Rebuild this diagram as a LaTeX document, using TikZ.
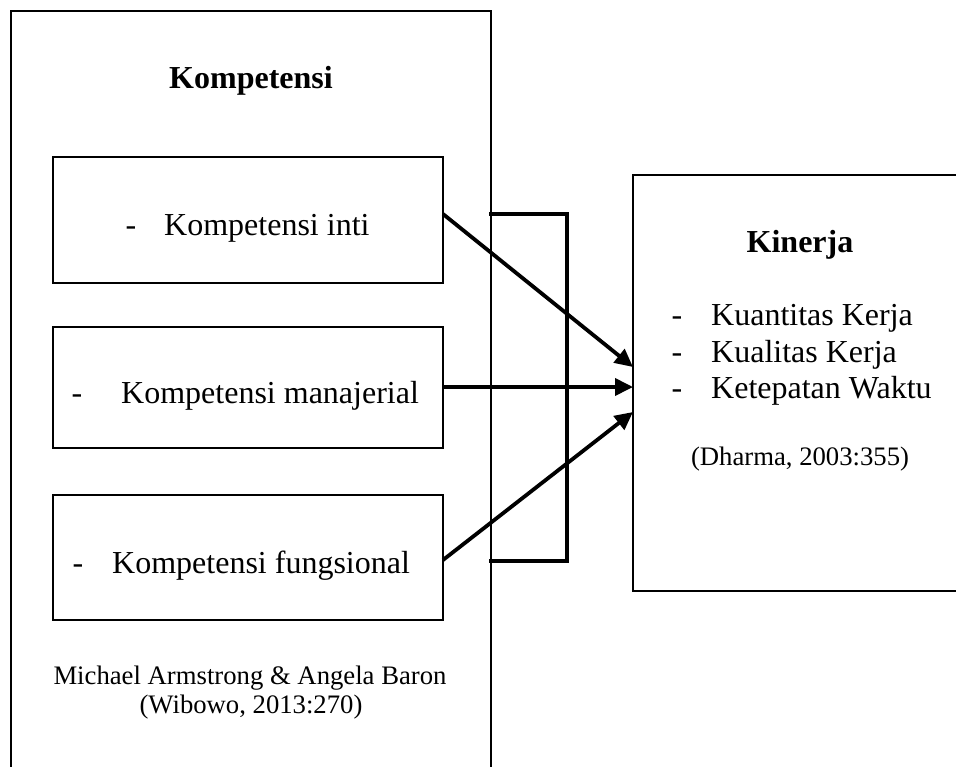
\documentclass[tikz,border=0pt]{standalone}
\usepackage{fontspec}
\setmainfont{Liberation Serif}
\usetikzlibrary{arrows.meta}
\begin{document}
\begin{tikzpicture}[x=1pt,y=-1pt,
  frame/.style={draw=black,line width=1.6pt,rectangle,inner sep=0pt},
  big/.style={inner sep=0pt,font=\fontsize{32}{36}\selectfont},
  bigb/.style={inner sep=0pt,font=\fontsize{32}{36}\selectfont\bfseries},
  small/.style={inner sep=0pt,font=\fontsize{26.7}{32}\selectfont},
  arr/.style={line width=3.8pt,-{Triangle[length=18pt,width=17pt]}},
  brk/.style={line width=3.4pt,line cap=rect}]
\clip (0,0) rectangle (956,766);
\fill[white] (0,0) rectangle (956,766);
% outer box (bottom off the page)
\node[frame,minimum width=480pt,minimum height=820pt] (outer) at (251,421) {};
% inner boxes
\node[frame,minimum width=390pt,minimum height=126pt] (b1) at (248,220) {};
\node[frame,minimum width=390pt,minimum height=121pt] (b2) at (248,387.5) {};
\node[frame,minimum width=390pt,minimum height=125pt] (b3) at (248,557.5) {};
% right box (right side off the page)
\node[frame,minimum width=400pt,minimum height=416pt] (kin) at (833,383) {};
% texts
\node[bigb,anchor=base] (t0) at (251,88) {Kompetensi};
\node[big,anchor=base west] (d1) at (125.5,235) {-};
\node[big,anchor=base west] (t1) at (164,235) {Kompetensi inti};
\node[big,anchor=base west] (d2) at (71.5,403) {-};
\node[big,anchor=base west] (t2) at (121,403) {Kompetensi manajerial};
\node[big,anchor=base west] (d3) at (72.5,573) {-};
\node[big,anchor=base west] (t3) at (112,573) {Kompetensi fungsional};
\node[small,anchor=base] (m1) at (250,684) {Michael Armstrong \& Angela Baron};
\node[small,anchor=base] (m2) at (251,713) {(Wibowo, 2013:270)};
\node[bigb,anchor=base] (k0) at (800,252) {Kinerja};
\node[big,anchor=base west] (kd1) at (671.5,325) {-};
\node[big,anchor=base west] (k1) at (711,325) {Kuantitas Kerja};
\node[big,anchor=base west] (kd2) at (671.5,362) {-};
\node[big,anchor=base west] (k2) at (711,362) {Kualitas Kerja};
\node[big,anchor=base west] (kd3) at (671.5,398) {-};
\node[big,anchor=base west] (k3) at (711,398) {Ketepatan Waktu};
\node[small,anchor=base] (k4) at (800,465) {(Dharma, 2003:355)};
% connector coordinates
\coordinate (s1) at (443,214);
\coordinate (s2) at (443,387);
\coordinate (s3) at (443,560);
\coordinate (e1) at (633,367);
\coordinate (e2) at (633,387);
\coordinate (e3) at (633,412);
\coordinate (bt) at (491,214);
\coordinate (bb) at (491,561);
\coordinate (bx1) at (567,214);
\coordinate (bx2) at (567,561);
% bracket
\draw[brk] (bt) -- (bx1) -- (bx2) -- (bb);
% arrows
\draw[arr] (s1) -- (e1);
\draw[arr] (s2) -- (e2);
\draw[arr] (s3) -- (e3);
\end{tikzpicture}
\end{document}
